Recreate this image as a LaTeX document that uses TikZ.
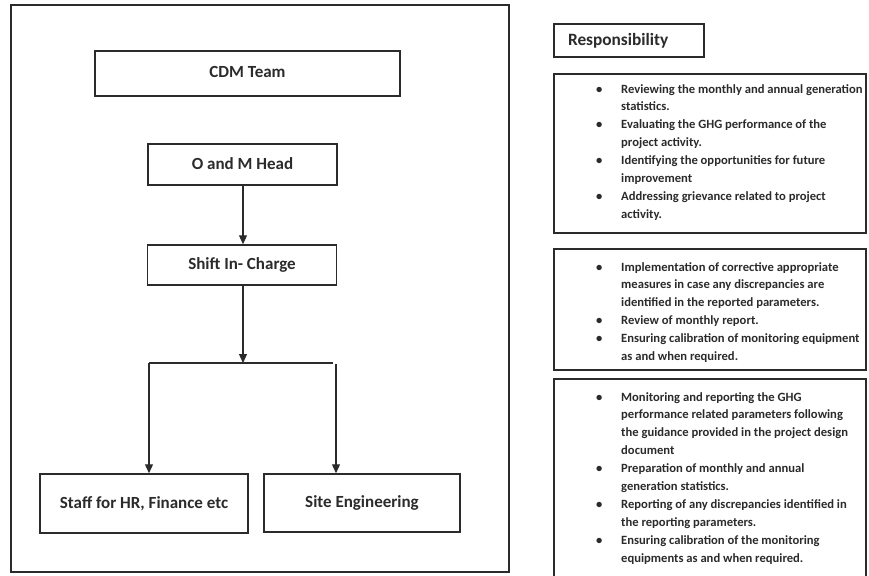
\documentclass[tikz,border=0pt]{standalone}
\usepackage{fontspec}
\setmainfont{Carlito}
\usetikzlibrary{arrows.meta}
\definecolor{ink}{HTML}{2B2B2B}
\newcommand\rbul{\makebox[25pt][l]{\textbullet}}
\newcommand\rind{\hspace*{25pt}}
\begin{document}
\begin{tikzpicture}[x=1pt,y=-1pt,
  box/.style={draw=ink, line width=1.5pt, inner sep=0pt, text=ink,
    font=\bfseries\fontsize{17}{20}\selectfont},
  listbox/.style={draw=ink, line width=1.5pt, inner sep=0pt},
  listtext/.style={inner sep=0pt, align=left, anchor=north west, text=ink,
    font=\bfseries\fontsize{12.6}{17.9}\selectfont},
  arr/.style={draw=ink, line width=1.2pt, -{Triangle[width=8pt,length=9pt]}},
  ln/.style={draw=ink, line width=1.2pt}
]
\useasboundingbox (0,0) rectangle (869,575);
\fill[white] (0,0) rectangle (869,575);

% outer frame
\draw[ink, line width=1.6pt] (11,5) rectangle (509,572);

% org chart
\node[box, minimum width=305pt, minimum height=45pt] (cdm) at (247.5,73.5) {\raisebox{3pt}{CDM Team}};
\node[box, minimum width=189pt, minimum height=41pt] (om) at (242.5,164.5) {\raisebox{2pt}{O and M Head}};
\node[box, minimum width=189pt, minimum height=40pt] (shift) at (242,265) {\raisebox{2pt}{Shift In- Charge}};
\node[box, minimum width=208pt, minimum height=59pt] (staff) at (144,503.5) {Staff for HR, Finance etc};
\node[box, minimum width=196pt, minimum height=58pt] (site) at (362,503) {Site Engineering};

\coordinate (j) at (243,363);
\coordinate (jl) at (149,363);
\coordinate (jr) at (333,363);
\coordinate (jr2) at (336,364);

\draw[arr] (om.south -| j) -- (shift.north -| j);
\draw[arr] (shift.south -| j) -- (j);
\draw[ln] (jl) -- (jr);
\draw[arr] (jl) -- (jl |- staff.north);
\draw[arr] (jr2) -- (jr2 |- site.north);

% responsibility column
\node[box, font=\bfseries\fontsize{17.3}{20}\selectfont, minimum width=150pt,
  minimum height=33pt, text width=122pt, align=left] (resp) at (629,40.5) {Responsibility};

\node[listbox, minimum width=312pt, minimum height=159pt] (b1) at (710,153.5) {};
\node[listbox, minimum width=312pt, minimum height=121pt] (b2) at (710,309.5) {};
\draw[ink, line width=1.5pt] (554,576) -- (554,379) -- (866,379) -- (866,576);

\node[listtext] (t1) at (596,84) {%
\rbul Reviewing the monthly and annual generation\\
\rind statistics.\\
\rbul Evaluating the GHG performance of the\\
\rind project activity.\\
\rbul Identifying the opportunities for future\\
\rind improvement\\
\rbul Addressing grievance related to project\\
\rind activity.};

\node[listtext] (t2) at (596,262) {%
\rbul Implementation of corrective appropriate\\
\rind measures in case any discrepancies are\\
\rind identified in the reported parameters.\\
\rbul Review of monthly report.\\
\rbul Ensuring calibration of monitoring equipment\\
\rind as and when required.};

\node[listtext] (t3) at (596,392) {%
\rbul Monitoring and reporting the GHG\\
\rind performance related parameters following\\
\rind the guidance provided in the project design\\
\rind document\\
\rbul Preparation of monthly and annual\\
\rind generation statistics.\\
\rbul Reporting of any discrepancies identified in\\
\rind the reporting parameters.\\
\rbul Ensuring calibration of the monitoring\\
\rind equipments as and when required.};
\end{tikzpicture}
\end{document}
